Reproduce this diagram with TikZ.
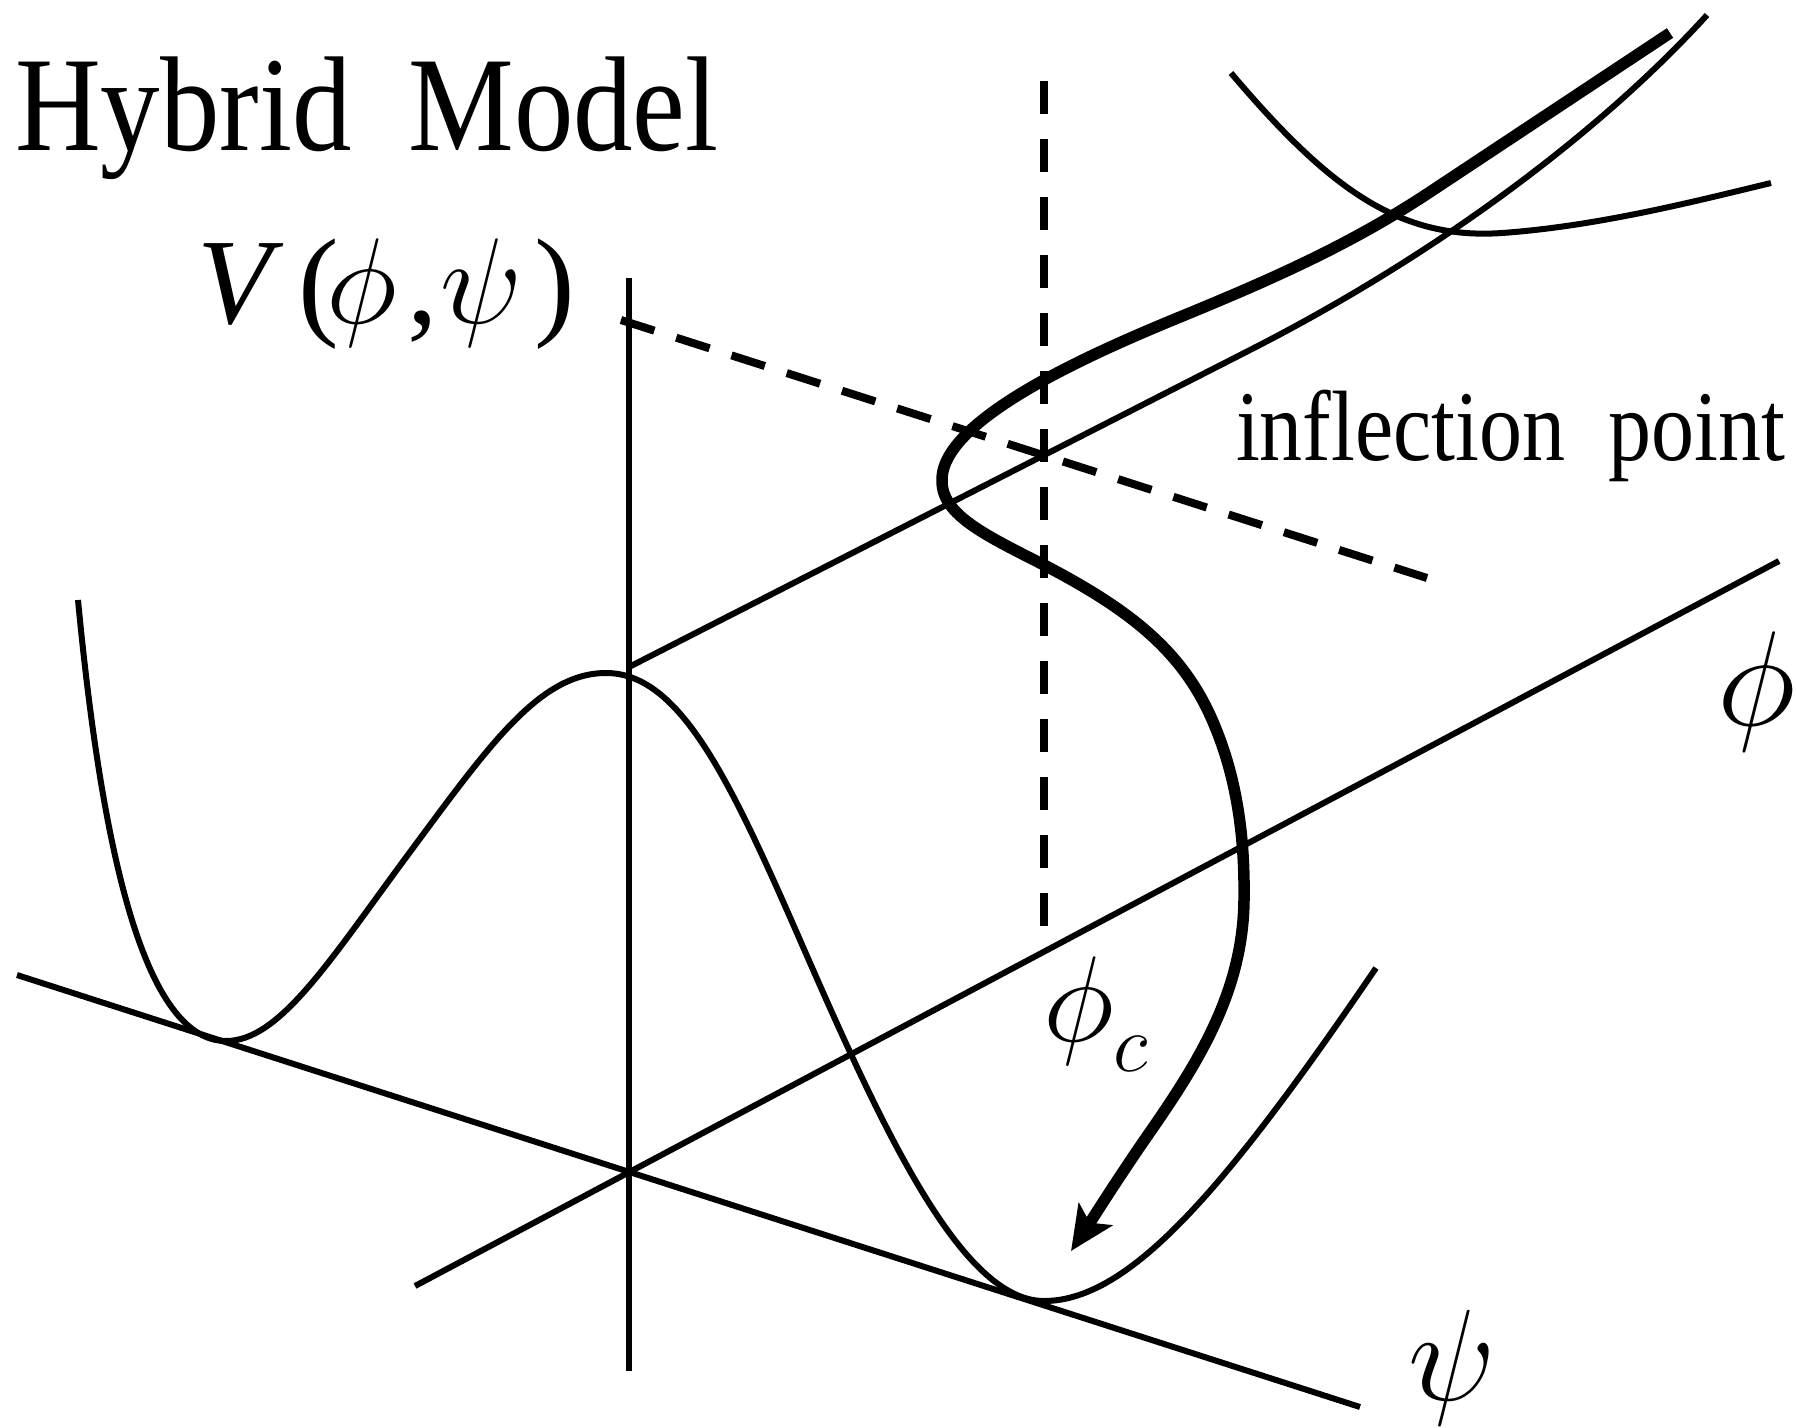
\documentclass[tikz,border=0pt]{standalone}
\usepackage{fontspec}
\setmainfont{Liberation Serif}
\newfontfamily\titlefont[FakeStretch=0.88]{Liberation Serif}
\newfontfamily\labelfont[FakeStretch=0.86]{Liberation Serif}
\usetikzlibrary{arrows.meta}
\tikzset{
  thinline/.style={line width=6pt},
  thickline/.style={line width=11.5pt, line join=round},
  dashline/.style={line width=8pt, dash pattern=on 33pt off 25pt},
  lbl/.style={inner sep=0pt, outer sep=0pt, anchor=base west},
}
\newcommand{\bigmath}[2]{\scalebox{#1}{\fontsize{24.88}{30}\selectfont #2}}
\begin{document}
\begin{tikzpicture}[x=1pt,y=-1pt]
\fill[white] (0,0) rectangle (1796,1427);
\useasboundingbox (0,0) rectangle (1796,1427);

% axes
\coordinate (vtop) at (629,278);
\coordinate (vbot) at (629,1371);
\coordinate (psiL) at (17,975);
\coordinate (psiR) at (1360,1407);
\coordinate (phiL) at (415,1286);
\coordinate (phiR) at (1779,561);
\draw[thinline] (vtop) -- (vbot);
\draw[thinline] (psiL) -- (psiR);
\draw[thinline] (phiL) -- (phiR);

% upper valley line (phi direction at psi = 0)
\coordinate (ustart) at (629,667);
\coordinate (ubend) at (1250,350);
\coordinate (uend) at (1707,15);
\draw[thinline] (ustart) -- (ubend) .. controls (1450,248) and (1610,122) .. (uend);

% upper-right parabola
\coordinate (pstart) at (1231,73);
\coordinate (pmin) at (1502,233);
\coordinate (pend) at (1771,183);
\draw[thinline] (pstart) .. controls (1330,190) and (1400,240) .. (pmin)
  .. controls (1600,226) and (1700,200) .. (pend);

% lower potential curve
\coordinate (cstart) at (78,600);
\coordinate (cmin1) at (226,1041);
\coordinate (cinf1) at (410,852);
\coordinate (cmax) at (606,673);
\coordinate (cinf2) at (800,940);
\coordinate (cmin2) at (1044,1301);
\coordinate (cend) at (1376,968);
\draw[thinline] (cstart) .. controls (100,830) and (140,1041) .. (cmin1)
  .. controls (280,1041) and (330,960) .. (cinf1)
  .. controls (490,744) and (540,673) .. (cmax)
  .. controls (680,673) and (730,780) .. (cinf2)
  .. controls (880,1123) and (960,1301) .. (cmin2)
  .. controls (1130,1301) and (1226,1188) .. (cend);

% dashed lines
\coordinate (dvtop) at (1044,81);
\coordinate (dvbot) at (1044,926);
\coordinate (dsA) at (621,320);
\coordinate (dsB) at (1427,578);
\draw[dashline] (dvtop) -- (dvbot);
\draw[dashline, dash pattern=on 35pt off 23pt] (dsA) -- (dsB);

% thick trajectory with arrow
\coordinate (tstart) at (1670,33);
\coordinate (tA) at (1430,192);
\coordinate (tB) at (1180,317);
\coordinate (tleft) at (942,481);
\coordinate (tC) at (1046,566);
\coordinate (tD) at (1210,715);
\coordinate (tE) at (1244,900);
\coordinate (tF) at (1150,1132);
\coordinate (ttip) at (1071,1251);
\draw[thickline, -{Stealth[length=44pt, width=40pt, inset=10pt]}]
  (tstart) -- (tA)
  .. controls (1350,245) and (1270,280) .. (tB)
  .. controls (1090,354) and (940,420) .. (tleft)
  .. controls (942,515) and (985,535) .. (tC)
  .. controls (1130,610) and (1180,650) .. (tD)
  .. controls (1235,770) and (1245,830) .. (tE)
  .. controls (1243,990) and (1200,1060) .. (tF)
  .. controls (1120,1175) and (1095,1215) .. (ttip);

% labels
\node[lbl] (title) at (15,150) {\titlefont\fontsize{135}{135}\selectfont Hybrid\hspace{57pt}Model};
\node[lbl] (Vlabel) at (197,323) {\bigmath{4.9035}{\textit{V}\hspace{3.06pt}(\hspace{-2.6pt}$\phi$\hspace{2.2pt},\hspace{0.41pt}$\psi$\hspace{2.45pt})}};
\node[lbl] (infl) at (1236,460) {\labelfont\fontsize{100}{100}\selectfont inflection\hspace{43pt}point};
\node[lbl] (phic) at (1043,1041) {\bigmath{4.9035}{$\phi_{\lower 2.5pt\hbox{\scalebox{0.8}{$\scriptstyle c$}}}$}};
\node[lbl] (phil) at (1717,725) {\bigmath{5.426}{$\phi$}};
\node[lbl] (psil) at (1408,1400) {\bigmath{5.225}{$\psi$}};
\end{tikzpicture}
\end{document}
